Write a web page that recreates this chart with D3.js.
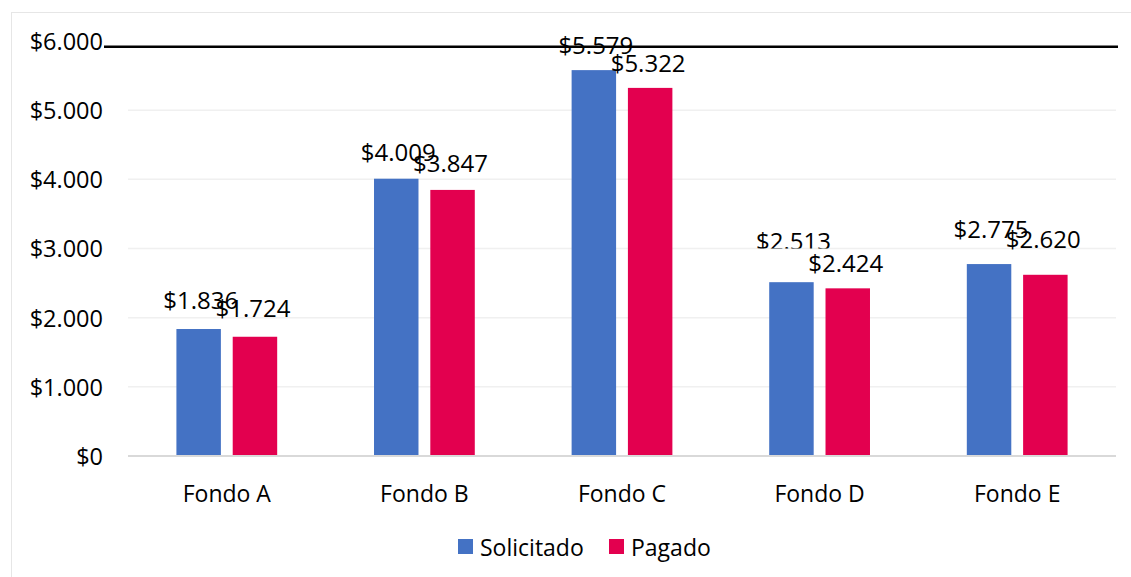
<!DOCTYPE html>
<html>
<head>
<meta charset="utf-8">
<script src="https://cdn.jsdelivr.net/npm/d3@7"></script>
<style>
  body { margin: 0; background: #fff; }
  text { font-family: "Open Sans", "Noto Sans", sans-serif; fill: #000; }
</style>
</head>
<body>
<svg id="chart" width="1131" height="577"></svg>
<script>
// data
var categories = ["Fondo A", "Fondo B", "Fondo C", "Fondo D", "Fondo E"]
var series = ["Solicitado", "Pagado"]
var solicitado = [1836, 4009, 5579, 2513, 2775]
var pagado = [1724, 3847, 5322, 2424, 2620]
var yTicks = [0, 1000, 2000, 3000, 4000, 5000, 6000]
var colors = ["#4472C4", "#E3004F"]

// how far each data label sits above its bar (px), per series
var labelLift = [[20, 18, 16, 32, 26], [20, 18, 16, 16, 27]]

var values = [solicitado, pagado]

var locale = d3.formatLocale({decimal: ",", thousands: ".", grouping: [3], currency: ["$", ""]})
var fmt = locale.format("$,.0f")

var svg = d3.select("#chart")

// outer chart frame
svg.append("rect")
    .attr("x", 11.5).attr("y", 12.5)
    .attr("width", 1130).attr("height", 580)
    .attr("fill", "#fff")
    .attr("stroke", "#e6e6e6")

var plotLeft = 128, plotRight = 1116, plotTop = 41, plotBottom = 456

var x0 = d3.scaleBand()
    .domain(categories)
    .range([plotLeft, plotRight])
    .paddingInner(0.49)
    .paddingOuter(0.245)

var x1 = d3.scaleBand()
    .domain(series)
    .range([0, x0.bandwidth()])
    .paddingInner(0.21)

var y = d3.scaleLinear()
    .domain([0, 6000])
    .range([plotBottom, plotTop])

// gridlines
svg.append("g")
    .selectAll("line")
    .data(yTicks.filter(function(d) { return d > 0 && d < 6000 }))
    .enter()
    .append("line")
    .attr("x1", plotLeft).attr("x2", plotRight)
    .attr("y1", function(d) { return y(d) }).attr("y2", function(d) { return y(d) })
    .attr("stroke", "#f0f0f0")
    .attr("stroke-width", 1.5)

// y axis labels (no axis line)
var yAxis = d3.axisLeft(y)
    .tickValues(yTicks)
    .tickFormat(fmt)
    .tickSize(0)
    .tickPadding(0)

svg.append("g")
    .attr("transform", "translate(103,0)")
    .call(yAxis)
    .call(function(g) { g.select(".domain").remove() })
    .selectAll("text")
    .attr("font-family", "Open Sans")
    .attr("font-size", 23.5)
    .attr("fill", "#000")
    .attr("dy", "0.36em")

// bars
var groups = svg.append("g")
    .selectAll("g")
    .data(categories)
    .enter()
    .append("g")
    .attr("transform", function(d) { return `translate(${x0(d)},0)` })

groups.selectAll("rect")
    .data(function(d, i) { return series.map(function(s, j) { return {s: s, j: j, i: i, v: values[j][i]} }) })
    .enter()
    .append("rect")
    .attr("x", function(d) { return x1(d.s) })
    .attr("width", x1.bandwidth())
    .attr("y", function(d) { return y(d.v) })
    .attr("height", function(d) { return y(0) - y(d.v) })
    .attr("fill", function(d) { return colors[d.j] })

// baseline
svg.append("line")
    .attr("x1", plotLeft).attr("x2", plotRight)
    .attr("y1", y(0)).attr("y2", y(0))
    .attr("stroke", "#d9d9d9")
    .attr("stroke-width", 2)

// the "$2.513" label is cut off at the $3.000 gridline in the original
svg.append("clipPath")
    .attr("id", "clipD")
    .attr("clipPathUnits", "userSpaceOnUse")
    .append("rect")
    .attr("x", -200).attr("y", 0)
    .attr("width", 1500).attr("height", y(3000))

// data labels
groups.selectAll("text")
    .data(function(d, i) { return series.map(function(s, j) { return {s: s, j: j, i: i, v: values[j][i]} }) })
    .enter()
    .append("text")
    .attr("x", function(d) { return x1(d.s) + x1.bandwidth() / 2 + (d.j == 0 ? 2 : -2) })
    .attr("y", function(d) { return y(d.v) - labelLift[d.j][d.i] })
    .attr("text-anchor", "middle")
    .attr("font-size", 24)
    .attr("clip-path", function(d) { return (d.i == 3 && d.j == 0) ? "url(#clipD)" : null })
    .text(function(d) { return fmt(d.v) })

// category labels
svg.append("g")
    .selectAll("text")
    .data(categories)
    .enter()
    .append("text")
    .attr("x", function(d) { return x0(d) + x0.bandwidth() / 2 })
    .attr("y", 502)
    .attr("text-anchor", "middle")
    .attr("font-size", 23)
    .text(function(d) { return d })

// black annotation line near the top
svg.append("line")
    .attr("x1", 104).attr("x2", 1118)
    .attr("y1", y(6000) + 5.8).attr("y2", y(6000) + 5.8)
    .attr("stroke", "#000")
    .attr("stroke-width", 2.4)

// legend
var legend = svg.append("g")
    .selectAll("g")
    .data(series)
    .enter()
    .append("g")
    .attr("transform", function(d, i) { return `translate(${i == 0 ? 458 : 609},539)` })

legend.append("rect")
    .attr("width", 15).attr("height", 15)
    .attr("fill", function(d, i) { return colors[i] })

legend.append("text")
    .attr("x", 22)
    .attr("y", 17)
    .attr("font-size", 23)
    .text(function(d) { return d })
</script>
</body>
</html>
